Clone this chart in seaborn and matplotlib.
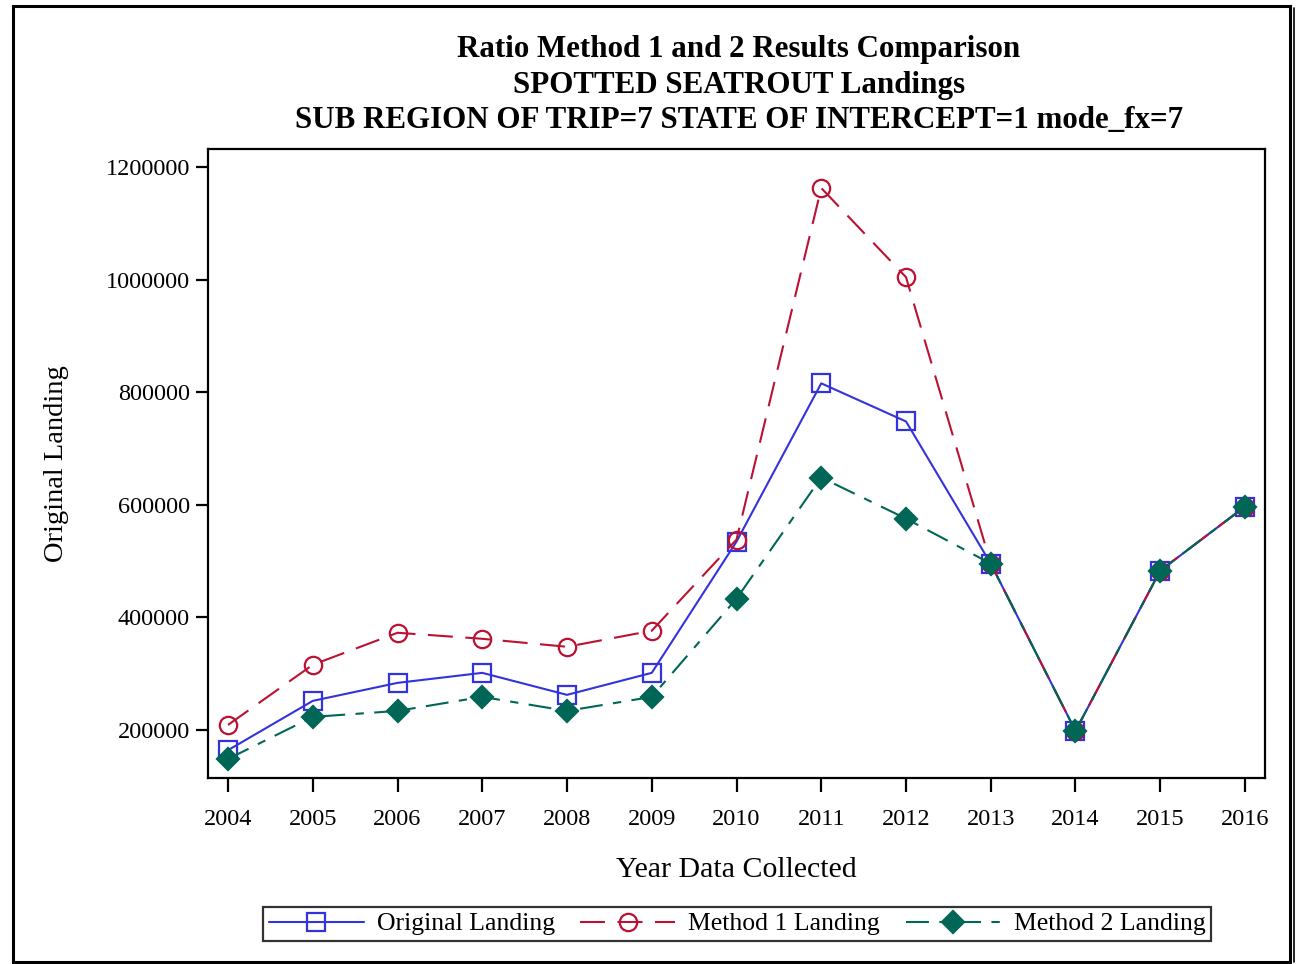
import matplotlib
matplotlib.use("Agg")
import matplotlib.pyplot as plt
from matplotlib.patches import Rectangle
from matplotlib.lines import Line2D
import pandas as pd
import seaborn as sns

years = [2004, 2005, 2006, 2007, 2008, 2009, 2010, 2011, 2012, 2013, 2014, 2015, 2016]
original_landing = [164000, 251600, 283600, 301400, 262300, 301400, 534500,
                    815700, 748000, 495400, 198200, 483000, 596800]
method1_landing = [208900, 315700, 372600, 361900, 347700, 376200, 538100,
                   1162700, 1004300, 495400, 198200, 483000, 596800]
method2_landing = [148400, 223100, 233800, 258700, 233800, 258700, 433100,
                   648400, 575400, 495400, 198200, 483000, 596800]
series_names = ["Original Landing", "Method 1 Landing", "Method 2 Landing"]
y_ticks = [200000, 400000, 600000, 800000, 1000000, 1200000]

title_lines = [
    "Ratio Method 1 and 2 Results Comparison",
    "SPOTTED SEATROUT Landings",
    "SUB REGION OF TRIP=7 STATE OF INTERCEPT=1 mode_fx=7",
]

sns.set_style("ticks")
plt.rcParams["font.family"] = ["Liberation Serif", "DejaVu Serif"]
plt.rcParams.update({"text.color": "black", "axes.labelcolor": "black",
                     "xtick.color": "black", "ytick.color": "black"})

df = pd.DataFrame({
    "year": years * 3,
    "value": original_landing + method1_landing + method2_landing,
    "series": [s for s in series_names for _ in years],
})

styles = {
    "Original Landing": dict(color="#3333DD", marker="s", mfc="none", ms=12.5,
                             linestyle="-"),
    "Method 1 Landing": dict(color="#BB1133", marker="o", mfc="none", ms=12.5,
                             linestyle=(0, (12, 6))),
    "Method 2 Landing": dict(color="#006655", marker="D", ms=11.5,
                             linestyle=(0, (11, 5, 4, 5))),
}

fig = plt.figure(figsize=(13.01, 9.64), dpi=100)
ax = fig.add_axes([208 / 1301, 1 - 778 / 964, (1265 - 208) / 1301, (778 - 149) / 964])

for name in series_names:
    st = styles[name]
    sub = df[df["series"] == name]
    sns.lineplot(data=sub, x="year", y="value", ax=ax, color=st["color"],
                 marker=st["marker"], markersize=st["ms"],
                 markerfacecolor=st.get("mfc", st["color"]),
                 markeredgecolor=st["color"], markeredgewidth=1.6,
                 linestyle=st["linestyle"], linewidth=1.5, legend=False)

ax.set_xlim(2004 - 0.236, 2016 + 0.236)
ax.set_ylim(114600, 1232000)
ax.set_xticks(years)
ax.set_xticklabels([str(y) for y in years])
ax.set_yticks(y_ticks)
ax.set_yticklabels([str(v) for v in y_ticks])
ax.tick_params(axis="both", direction="out", width=1.6, labelsize=17.5)
ax.tick_params(axis="x", length=10, pad=12)
ax.tick_params(axis="y", length=9, pad=4)
for sp in ax.spines.values():
    sp.set_visible(True)
    sp.set_linewidth(1.6)
    sp.set_color("black")

ax.set_xlabel("Year Data Collected", fontsize=21.5, labelpad=20)
ax.set_ylabel("Original Landing", fontsize=20.5, labelpad=26)

title_y = [49, 85, 121]
for txt, yp in zip(title_lines, title_y):
    fig.text(739 / 1301, 1 - yp / 964, txt, ha="center", va="center",
             fontsize=22.3, fontweight="bold")

handles = [
    Line2D([], [], color=styles[n]["color"], marker=styles[n]["marker"],
           markersize=styles[n]["ms"], markerfacecolor=styles[n].get("mfc", styles[n]["color"]),
           markeredgecolor=styles[n]["color"], markeredgewidth=1.6,
           linestyle=styles[n]["linestyle"], linewidth=1.5)
    for n in series_names
]
leg = fig.legend(handles, series_names, loc="center", ncol=3,
                 bbox_to_anchor=(737 / 1301, 1 - 924 / 964), fontsize=18.5,
                 frameon=True, fancybox=False, edgecolor="black",
                 handlelength=3.7, handletextpad=0.5, columnspacing=1.0,
                 borderpad=0.2, borderaxespad=0)
leg.get_frame().set_linewidth(1.6)

fig.patches.append(Rectangle((13 / 1301, 1 - 962 / 964), (1290 - 13) / 1301,
                             (962 - 6) / 964, transform=fig.transFigure,
                             fill=False, edgecolor="black", linewidth=2.2))
fig.lines.append(Line2D([1294 / 1301, 1294 / 1301], [1 - 962 / 964, 1 - 8 / 964],
                        transform=fig.transFigure, color="black", linewidth=1.2))

fig.savefig("out.png", dpi=100)
plt.close(fig)
